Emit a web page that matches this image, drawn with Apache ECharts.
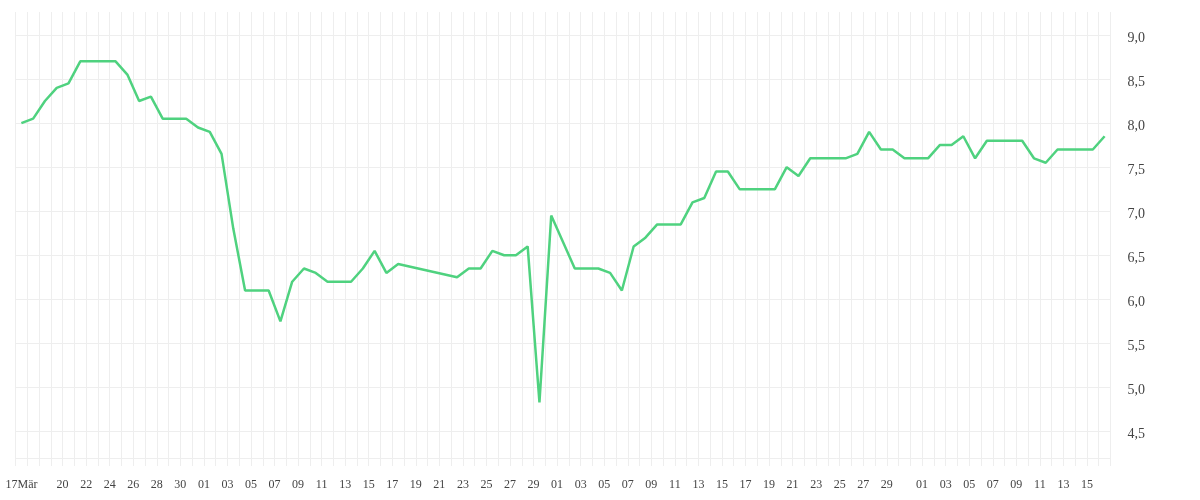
<!DOCTYPE html>
<html>
<head>
<meta charset="utf-8">
<script src="https://cdn.jsdelivr.net/npm/echarts@6/dist/echarts.min.js"></script>
<style>
html,body{margin:0;padding:0;background:#fff;}
#chart{width:1200px;height:500px;}
</style>
</head>
<body>
<div id="chart"></div>
<script>
// Measurement dates (readings taken around midday)
const dates = [
  '2023-03-16','2023-03-17','2023-03-18','2023-03-19','2023-03-20','2023-03-21','2023-03-22','2023-03-23',
  '2023-03-24','2023-03-25','2023-03-26','2023-03-27','2023-03-28','2023-03-29','2023-03-30','2023-03-31',
  '2023-04-01','2023-04-02','2023-04-03','2023-04-04','2023-04-05','2023-04-06','2023-04-07','2023-04-08',
  '2023-04-09','2023-04-10','2023-04-11','2023-04-12','2023-04-13','2023-04-14','2023-04-15','2023-04-16',
  '2023-04-17','2023-04-22','2023-04-23','2023-04-24','2023-04-25','2023-04-26','2023-04-27','2023-04-28',
  '2023-04-29','2023-04-30','2023-05-02','2023-05-03','2023-05-04','2023-05-05','2023-05-06','2023-05-07',
  '2023-05-08','2023-05-09','2023-05-10','2023-05-11','2023-05-12','2023-05-13','2023-05-14','2023-05-15',
  '2023-05-16','2023-05-17','2023-05-18','2023-05-19','2023-05-20','2023-05-21','2023-05-22','2023-05-23',
  '2023-05-24','2023-05-25','2023-05-26','2023-05-27','2023-05-28','2023-05-29','2023-05-30','2023-05-31',
  '2023-06-01','2023-06-02','2023-06-03','2023-06-04','2023-06-05','2023-06-06','2023-06-07','2023-06-08',
  '2023-06-09','2023-06-10','2023-06-11','2023-06-12','2023-06-13','2023-06-14','2023-06-15','2023-06-16'
];
const values = [
  8.0, 8.05, 8.25, 8.4, 8.45, 8.7, 8.7, 8.7,
  8.7, 8.55, 8.25, 8.3, 8.05, 8.05, 8.05, 7.95,
  7.9, 7.65, 6.8, 6.1, 6.1, 6.1, 5.75, 6.2,
  6.35, 6.3, 6.2, 6.2, 6.2, 6.35, 6.55, 6.3,
  6.4, 6.25, 6.35, 6.35, 6.55, 6.5, 6.5, 6.6,
  4.83, 6.95, 6.35, 6.35, 6.35, 6.3, 6.1, 6.6,
  6.7, 6.85, 6.85, 6.85, 7.1, 7.15, 7.45, 7.45,
  7.25, 7.25, 7.25, 7.25, 7.5, 7.4, 7.6, 7.6,
  7.6, 7.6, 7.65, 7.9, 7.7, 7.7, 7.6, 7.6,
  7.6, 7.75, 7.75, 7.85, 7.6, 7.8, 7.8, 7.8,
  7.8, 7.6, 7.55, 7.7, 7.7, 7.7, 7.7, 7.85
];
// X axis tick labels (date of the tick, text shown)
const tickDates = [
  '2023-03-16','2023-03-20','2023-03-22','2023-03-24','2023-03-26','2023-03-28','2023-03-30',
  '2023-04-01','2023-04-03','2023-04-05','2023-04-07','2023-04-09','2023-04-11','2023-04-13','2023-04-15',
  '2023-04-17','2023-04-19','2023-04-21','2023-04-23','2023-04-25','2023-04-27','2023-04-29',
  '2023-05-01','2023-05-03','2023-05-05','2023-05-07','2023-05-09','2023-05-11','2023-05-13','2023-05-15',
  '2023-05-17','2023-05-19','2023-05-21','2023-05-23','2023-05-25','2023-05-27','2023-05-29',
  '2023-06-01','2023-06-03','2023-06-05','2023-06-07','2023-06-09','2023-06-11','2023-06-13','2023-06-15'
];
const tickLabels = [
  '17Mär','20','22','24','26','28','30',
  '01','03','05','07','09','11','13','15',
  '17','19','21','23','25','27','29',
  '01','03','05','07','09','11','13','15',
  '17','19','21','23','25','27','29',
  '01','03','05','07','09','11','13','15'
];
const startDate = '2023-03-16';
const endDate = '2023-06-18';

const DAY = 86400000;
function dayIndex(s) {
  const p = s.split('-').map(Number);
  const q = startDate.split('-').map(Number);
  return Math.round((Date.UTC(p[0], p[1]-1, p[2]) - Date.UTC(q[0], q[1]-1, q[2])) / DAY);
}
const labelMap = {};
tickDates.forEach((d, i) => { labelMap[dayIndex(d)] = tickLabels[i]; });
// readings are taken at noon -> half a day after the date's midnight tick
const seriesData = dates.map((d, i) => [dayIndex(d) + 0.5, values[i]]);

const chart = echarts.init(document.getElementById('chart'));
const fontFamily = '"Liberation Serif", serif';
chart.setOption({
  animation: false,
  backgroundColor: '#fff',
  grid: { left: 15.5, right: 89.5, top: 12, bottom: 42, containLabel: false },
  xAxis: {
    type: 'value',
    min: 0,
    max: dayIndex(endDate) - 1,
    interval: 1,
    axisLine: { show: false },
    axisTick: { show: true, length: 8, lineStyle: { color: '#eeeeee', width: 1 } },
    splitLine: { show: true, lineStyle: { color: '#eeeeee', width: 1 } },
    axisLabel: {
      margin: 21,
      color: '#444',
      fontFamily: fontFamily,
      fontSize: 12,
      showMinLabel: true,
      showMaxLabel: true,
      hideOverlap: false,
      formatter: v => {
        const t = labelMap[Math.round(v)];
        if (t === undefined) return '';
        return Math.round(v) === 0 ? '{first|' + t + '}' : t;
      },
      rich: {
        first: { fontFamily: fontFamily, fontSize: 12, color: '#444', padding: [0, 0, 0, 12] }
      }
    }
  },
  yAxis: {
    type: 'value',
    position: 'right',
    min: 4.2,
    max: 9.26,
    splitNumber: 10,
    axisLine: { show: false },
    axisTick: { show: false },
    splitLine: { show: true, showMaxLine: false, lineStyle: { color: '#eeeeee', width: 1 } },
    axisLabel: {
      margin: 17,
      color: '#444',
      fontFamily: fontFamily,
      fontSize: 14,
      showMinLabel: false,
      showMaxLabel: false,
      formatter: v => '{v|' + v.toFixed(1).replace('.', ',') + '}',
      rich: {
        v: { fontFamily: fontFamily, fontSize: 14, color: '#444', padding: [6, 0, 0, 0] }
      }
    }
  },
  series: [{
    type: 'line',
    data: seriesData,
    showSymbol: false,
    symbol: 'none',
    lineStyle: { color: '#4fd27f', width: 2.5 },
    itemStyle: { color: '#4fd27f' }
  }]
});
</script>
</body>
</html>
